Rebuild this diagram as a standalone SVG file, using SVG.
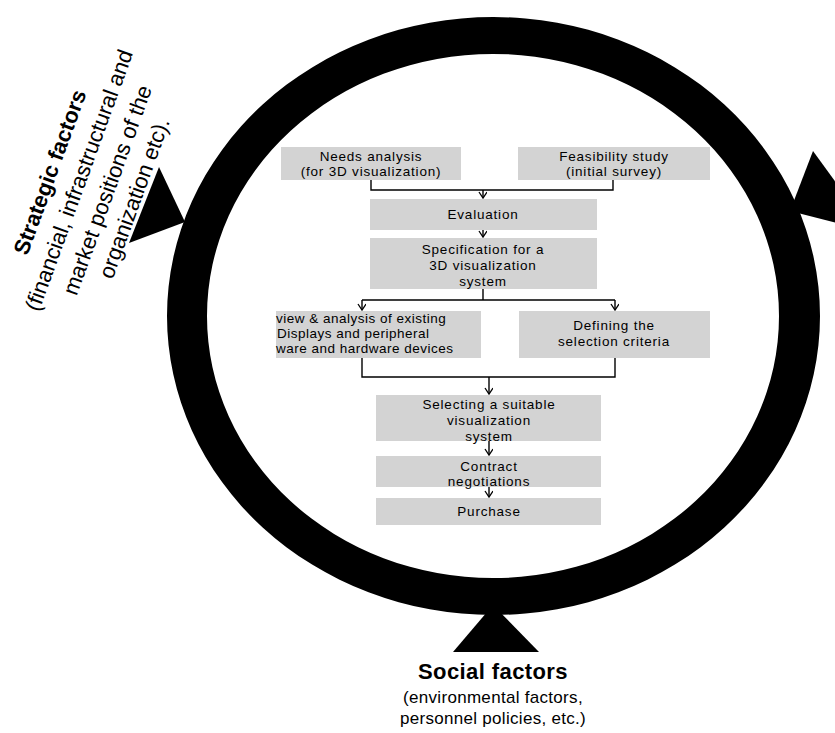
<svg xmlns="http://www.w3.org/2000/svg" width="835" height="733" viewBox="0 0 835 733">
<style>
.box{fill:#d3d3d3;stroke:none}
.bt{font-family:"Liberation Sans",Arial,sans-serif;font-size:13.5px;letter-spacing:0.8px;fill:#000;text-anchor:middle}
.btl{font-family:"Liberation Sans",Arial,sans-serif;font-size:13.5px;letter-spacing:0.5px;fill:#000}
.con{fill:none;stroke:#000;stroke-width:1.4}
.big{font-family:"Liberation Sans",Arial,sans-serif;font-size:22px;fill:#000;text-anchor:middle}
.bot{font-family:"Liberation Sans",Arial,sans-serif;font-size:17px;letter-spacing:0.3px;fill:#000;text-anchor:middle}
.b{font-weight:bold}
</style>
<defs>
<marker id="chev" markerWidth="10" markerHeight="10" refX="7" refY="4" orient="auto" markerUnits="userSpaceOnUse">
<path d="M1,0 L7,4 L1,8" fill="none" stroke="#000" stroke-width="1.3"/>
</marker>
</defs>
<rect width="835" height="733" fill="#fff"/>

<g id="ring">
<path fill="#000" fill-rule="evenodd" d="M167,316 A326.5,299 0 1 0 820,316 A326.5,299 0 1 0 167,316 Z M207,316 A286,262 0 1 0 779,316 A286,262 0 1 0 207,316 Z"/>
<polygon points="159,167 185,222 129,243" fill="#000"/>
<polygon points="813,151 790,211 872,232" fill="#000"/>
<polygon points="493,605 453,652 539,652" fill="#000"/>
</g>

<g id="strategic" transform="translate(49.5,172) rotate(-70)">
<text class="big b" x="0" y="8">Strategic factors</text>
<text class="big" x="2.4" y="38">(financial, infrastructural and</text>
<text class="big" x="2.8" y="68">market positions of the</text>
<text class="big" x="4.5" y="96">organization etc).</text>
</g>

<g id="social">
<text class="big b" x="493" y="679" style="font-size:22px;letter-spacing:0.4px">Social factors</text>
<text class="bot" x="493" y="703">(environmental factors,</text>
<text class="bot" x="493" y="724">personnel policies, etc.)</text>
</g>

<g id="connectors">
<path class="con" d="M371,180 V190 H613 V180"/>
<path class="con" d="M483,190 V198" marker-end="url(#chev)"/>
<path class="con" d="M483,230 V237" marker-end="url(#chev)"/>
<path class="con" d="M483,289 V300 M362,300 H615"/>
<path class="con" d="M362,300 V310" marker-end="url(#chev)"/>
<path class="con" d="M615,300 V310" marker-end="url(#chev)"/>
<path class="con" d="M362,358 V377 H615 V358"/>
<path class="con" d="M489,377 V394" marker-end="url(#chev)"/>
<path class="con" d="M489,441 V455" marker-end="url(#chev)"/>
<path class="con" d="M489,487 V497" marker-end="url(#chev)"/>
</g>

<g id="needs">
<rect class="box" x="281" y="147" width="180" height="33"/>
<text class="bt" x="371" y="161">Needs analysis</text>
<text class="bt" x="371" y="176">(for 3D visualization)</text>
</g>
<g id="feasibility">
<rect class="box" x="518" y="147" width="192" height="33"/>
<text class="bt" x="614" y="161">Feasibility study</text>
<text class="bt" x="614" y="176">(initial survey)</text>
</g>
<g id="evaluation">
<rect class="box" x="370" y="199" width="227" height="31"/>
<text class="bt" x="483" y="219">Evaluation</text>
</g>
<g id="specification">
<rect class="box" x="370" y="238" width="227" height="51"/>
<text class="bt" x="483" y="254">Specification for a</text>
<text class="bt" x="483" y="270">3D visualization</text>
<text class="bt" x="483" y="286">system</text>
</g>
<g id="review">
<rect class="box" x="276" y="311" width="205" height="47"/>
<text class="btl" x="276" y="323">view &amp; analysis of existing</text>
<text class="btl" x="277" y="338">Displays and peripheral</text>
<text class="btl" x="276" y="353">ware and hardware devices</text>
</g>
<g id="defining">
<rect class="box" x="519" y="311" width="191" height="47"/>
<text class="bt" x="614" y="330">Defining the</text>
<text class="bt" x="614" y="346">selection criteria</text>
</g>
<g id="selecting">
<rect class="box" x="376" y="395" width="225" height="46"/>
<text class="bt" x="489" y="409">Selecting a suitable</text>
<text class="bt" x="489" y="425">visualization</text>
<text class="bt" x="489" y="441">system</text>
</g>
<g id="contract">
<rect class="box" x="376" y="456" width="225" height="31"/>
<text class="bt" x="489" y="471">Contract</text>
<text class="bt" x="489" y="486">negotiations</text>
</g>
<g id="purchase">
<rect class="box" x="376" y="498" width="225" height="27"/>
<text class="bt" x="489" y="516">Purchase</text>
</g>
</svg>
